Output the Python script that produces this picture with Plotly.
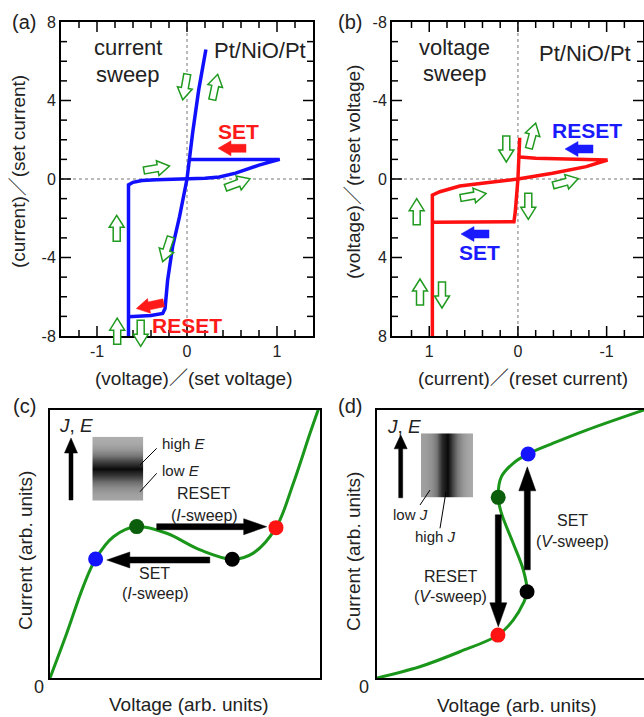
import math
import plotly.graph_objects as go

W, H = 644, 717
FONT = "Liberation Sans, Arial, Noto Sans CJK JP, sans-serif"
TXT = "#222222"

# ---------------- data ----------------
# (a) current sweep, Pt/NiO/Pt : x = voltage/set voltage, y = current/set current
A_LRS_V = [0.21, 0.13, 0.062, 0.0, -0.083, -0.16, -0.215, -0.244, -0.27, -0.40, -0.65]
A_LRS_I = [6.6, 4.54, 2.33, 0.0, -1.92, -3.45, -5.15, -6.6, -6.85, -6.95, -7.02]
A_HRS_V = [-0.65, -0.65, -0.60, -0.50, -0.34, 0.0, 0.20, 0.36, 0.54, 0.80, 0.92, 1.03, 0.03]
A_HRS_I = [-8.6, -0.30, -0.17, -0.08, -0.04, 0.0, 0.04, 0.10, 0.30, 0.71, 0.88, 1.0, 1.0]
A_XTICKS = [-1, 0, 1]
A_XLABELS = ["-1", "0", "1"]
A_YTICKS = [-8, -4, 0, 4, 8]
A_YLABELS = ["-8", "-4", "0", "4", "8"]

# (b) voltage sweep : x = current/reset current, y = voltage/reset voltage
B_LRS_I = [-0.02, 0.0, 0.03, 0.045, 0.96]
B_LRS_V = [-2.1, 0.0, 1.67, 2.18, 2.2]
B_HRS_I = [0.965, 0.965, 0.88, 0.655, 0.355, 0.0, -0.39, -0.77, -1.01, -0.5, -0.2, -0.02]
B_HRS_V = [8.6, 0.82, 0.65, 0.36, 0.19, 0.0, -0.29, -0.63, -0.97, -1.0, -1.06, -1.12]
B_XTICKS = [1, 0, -1]
B_XLABELS = ["1", "0", "-1"]
B_YTICKS = [-8, -4, 0, 4, 8]
B_YLABELS = ["-8", "-4", "0", "4", "8"]

# minor tick positions shared by (a) and (b)
X_MINOR = [-1.2, -0.8, -0.6, -0.4, -0.2, 0.2, 0.4, 0.6, 0.8, 1.2]
Y_MINOR = [-7, -6, -5, -3, -2, -1, 1, 2, 3, 5, 6, 7]

# (c) N-shaped I-V (arb. units)
C_V = [0.0, 0.062, 0.123, 0.169, 0.235, 0.321, 0.432, 0.556, 0.675, 0.753, 0.837, 0.901, 0.963, 1.0]
C_I = [0.0, 0.167, 0.341, 0.444, 0.527, 0.565, 0.540, 0.478, 0.443, 0.466, 0.561, 0.726, 0.913, 1.02]
C_DOT_V = [0.169, 0.321, 0.675, 0.837]
C_DOT_I = [0.444, 0.565, 0.443, 0.561]
C_DOT_COL = ["#1414ff", "#0b5e0b", "#000000", "#ff1414"]

# (d) S-shaped I-V (arb. units)
D_V = [0.0, 0.16, 0.31, 0.453, 0.51, 0.548, 0.562, 0.548, 0.51, 0.466, 0.454, 0.466, 0.51, 0.566, 0.66, 0.785, 1.0]
D_I = [0.0, 0.042, 0.098, 0.16, 0.216, 0.279, 0.322, 0.403, 0.503, 0.615, 0.674, 0.751, 0.801, 0.836, 0.876, 0.925, 1.0]
D_DOT_V = [0.453, 0.562, 0.454, 0.566]
D_DOT_I = [0.16, 0.322, 0.674, 0.836]
D_DOT_COL = ["#ff1414", "#000000", "#0b5e0b", "#1414ff"]

# inset grey-level profiles (0 black .. 255 white)
C_INSET_PROFILE = [175, 168, 150, 118, 60, 10, 55, 110, 142, 160, 168]   # top -> bottom
D_INSET_PROFILE = [160, 155, 145, 118, 40, 8, 70, 122, 150, 165, 172]    # left -> right


def fx(p):
    return p / W


def fy(p):
    return 1 - p / H


A_PX = (61, 313, 22, 336)     # left, right, top, bottom (pixels) of the (a) frame
B_PX = (392, 643, 22, 336)    # same for (b)
A_XR = [-1.4, 1.4]
A_YR = [-8, 8]
B_XR = [1.42, -1.41]
B_YR = [8, -8]

fig = go.Figure()

fig.add_trace(go.Scatter(x=A_LRS_V, y=A_LRS_I, mode="lines", line=dict(color="#1010ff", width=3.5),
                         xaxis="x", yaxis="y", showlegend=False))
fig.add_trace(go.Scatter(x=A_HRS_V, y=A_HRS_I, mode="lines", line=dict(color="#1010ff", width=3.5),
                         xaxis="x", yaxis="y", showlegend=False))
fig.add_trace(go.Scatter(x=B_LRS_I, y=B_LRS_V, mode="lines", line=dict(color="#ff1010", width=3.5),
                         xaxis="x2", yaxis="y2", showlegend=False))
fig.add_trace(go.Scatter(x=B_HRS_I, y=B_HRS_V, mode="lines", line=dict(color="#ff1010", width=3.5),
                         xaxis="x2", yaxis="y2", showlegend=False))
fig.add_trace(go.Scatter(x=C_V, y=C_I, mode="lines", line=dict(color="#1a961a", width=3, shape="spline"),
                         xaxis="x3", yaxis="y3", showlegend=False))
fig.add_trace(go.Scatter(x=C_DOT_V, y=C_DOT_I, mode="markers", marker=dict(color=C_DOT_COL, size=15),
                         xaxis="x3", yaxis="y3", showlegend=False, cliponaxis=False))
fig.add_trace(go.Scatter(x=D_V, y=D_I, mode="lines", line=dict(color="#1a961a", width=3, shape="spline"),
                         xaxis="x4", yaxis="y4", showlegend=False))
fig.add_trace(go.Scatter(x=D_DOT_V, y=D_DOT_I, mode="markers", marker=dict(color=D_DOT_COL, size=15),
                         xaxis="x4", yaxis="y4", showlegend=False, cliponaxis=False))

gray_scale = [[0, "black"], [1, "white"]]
fig.add_trace(go.Heatmap(z=[[v, v] for v in reversed(C_INSET_PROFILE)], colorscale=gray_scale, zmin=0, zmax=255,
                         zsmooth="best", showscale=False, xaxis="x5", yaxis="y5", hoverinfo="skip"))
fig.add_trace(go.Heatmap(z=[D_INSET_PROFILE, D_INSET_PROFILE], colorscale=gray_scale, zmin=0, zmax=255,
                         zsmooth="best", showscale=False, xaxis="x6", yaxis="y6", hoverinfo="skip"))


# inward ticks on all four frame sides, drawn as line segments in the axes' own data units
def tick_trace(box, xr, yr, xvals, yvals, length, xaxis, yaxis):
    left, right, top, bottom = box
    ux = (xr[1] - xr[0]) / (right - left)      # data units per pixel (x)
    uy = (yr[1] - yr[0]) / (bottom - top)      # data units per pixel (y, upward)
    xs, ys = [], []
    for v in xvals:
        xs += [v, v, None, v, v, None]
        ys += [yr[0], yr[0] + length * uy, None, yr[1], yr[1] - length * uy, None]
    for v in yvals:
        xs += [xr[0], xr[0] + length * ux, None, xr[1], xr[1] - length * ux, None]
        ys += [v, v, None, v, v, None]
    return go.Scatter(x=xs, y=ys, mode="lines", line=dict(color="black", width=1.5),
                      xaxis=xaxis, yaxis=yaxis, showlegend=False, hoverinfo="skip", connectgaps=False)


fig.add_trace(tick_trace(A_PX, A_XR, A_YR, A_XTICKS, A_YTICKS[1:-1], 10, "x", "y"))
fig.add_trace(tick_trace(A_PX, A_XR, A_YR, X_MINOR, Y_MINOR, 6, "x", "y"))
fig.add_trace(tick_trace(B_PX, B_XR, B_YR, B_XTICKS, B_YTICKS[1:-1], 10, "x2", "y2"))
fig.add_trace(tick_trace(B_PX, B_XR, B_YR, X_MINOR, Y_MINOR, 6, "x2", "y2"))

A_XD = [fx(A_PX[0]), fx(A_PX[1])]
A_YD = [fy(A_PX[3]), fy(A_PX[2])]
B_XD = [fx(B_PX[0]), fx(B_PX[1])]
C_XD = [fx(50), fx(320)]
C_YD = [fy(678), fy(410)]
D_XD = [fx(377), 1.0]

common = dict(showline=True, linewidth=2, linecolor="black", showgrid=False, zeroline=False, ticks="",
              mirror=True, tickmode="array", tickfont=dict(family=FONT, size=16, color=TXT))
plain = dict(showgrid=False, zeroline=False, showticklabels=False, ticks="")

fig.update_layout(
    template="none",
    width=W, height=H, margin=dict(l=0, r=0, t=0, b=0), autosize=False,
    paper_bgcolor="white", plot_bgcolor="white",
    font=dict(family=FONT, color=TXT),
    xaxis=dict(domain=A_XD, range=A_XR, anchor="y", tickvals=A_XTICKS, ticktext=A_XLABELS, **common),
    yaxis=dict(domain=A_YD, range=A_YR, anchor="x", tickvals=A_YTICKS, ticktext=A_YLABELS, **common),
    xaxis2=dict(domain=B_XD, range=B_XR, anchor="y2", tickvals=B_XTICKS, ticktext=B_XLABELS, **common),
    yaxis2=dict(domain=A_YD, range=B_YR, anchor="x2", tickvals=B_YTICKS, ticktext=B_YLABELS, **common),
    xaxis3=dict(domain=C_XD, range=[0, 1], anchor="y3", showline=True, linewidth=1.5, linecolor="black", mirror=True, **plain),
    yaxis3=dict(domain=C_YD, range=[0, 1], anchor="x3", showline=True, linewidth=1.5, linecolor="black", mirror=True, **plain),
    xaxis4=dict(domain=D_XD, range=[0, 1], anchor="y4", showline=True, linewidth=1.5, linecolor="black", mirror=True, **plain),
    yaxis4=dict(domain=C_YD, range=[0, 1], anchor="x4", showline=True, linewidth=1.5, linecolor="black", mirror=False, **plain),
    xaxis5=dict(domain=[fx(92.3), fx(143.3)], anchor="y5", visible=False, range=[0, 1]),
    yaxis5=dict(domain=[fy(500.7), fy(436.7)], anchor="x5", visible=False, range=[0, len(C_INSET_PROFILE) - 1]),
    xaxis6=dict(domain=[fx(421), fx(473.3)], anchor="y6", visible=False, range=[0, len(D_INSET_PROFILE) - 1]),
    yaxis6=dict(domain=[fy(497.7), fy(433.3)], anchor="x6", visible=False, range=[0, 1]),
)

shapes = []
# dotted zero lines
for xr, yr in [("x", "y"), ("x2", "y2")]:
    shapes.append(dict(type="line", xref=xr, yref=yr + " domain", x0=0, x1=0, y0=0, y1=1,
                       line=dict(color="#777777", width=1, dash="dot"), layer="below"))
    shapes.append(dict(type="line", xref=xr + " domain", yref=yr, x0=0, x1=1, y0=0, y1=0,
                       line=dict(color="#777777", width=1, dash="dot"), layer="below"))


def block_arrow(cx, cy, ang, L, sw, hw, hl, fill, line_col, lw):
    pts = [(-L / 2, -sw / 2), (L / 2 - hl, -sw / 2), (L / 2 - hl, -hw / 2), (L / 2, 0),
           (L / 2 - hl, hw / 2), (L / 2 - hl, sw / 2), (-L / 2, sw / 2)]
    a = math.radians(ang)
    ca, sa = math.cos(a), math.sin(a)
    pp = []
    for x, y in pts:
        X = cx + x * ca - y * sa
        Y = cy + x * sa + y * ca
        pp.append(f"{fx(X):.5f},{fy(Y):.5f}")
    path = "M " + " L ".join(pp) + " Z"
    return dict(type="path", xref="paper", yref="paper", path=path, fillcolor=fill,
                line=dict(color=line_col, width=lw), layer="above")


GREEN = "#1f9a1f"
green_arrows = [
    (185, 87, 100), (215, 87, -78), (156.7, 168.3, -10), (237.7, 183.3, -20),
    (116.7, 228.3, -90), (166.7, 249.3, 108), (117.2, 331.2, -90), (140.7, 333.3, 90),
    (506.3, 149, 90), (532.3, 135.7, -75), (565.7, 182, -15), (473.3, 195.7, -10),
    (528.3, 206.3, 90), (416.7, 211.7, -90), (420, 292, -90), (442, 295, 90),
]
for cx, cy, ang in green_arrows:
    shapes.append(block_arrow(cx, cy, ang, 26, 7, 15, 12, "white", GREEN, 1.5))

RED = "#ff1a1a"
BLUE = "#1a1aff"
shapes.append(block_arrow(232, 148.3, 180, 28, 8, 15, 13, RED, RED, 0.5))
shapes.append(block_arrow(150, 305.7, 168, 28, 8, 15, 13, RED, RED, 0.5))
shapes.append(block_arrow(579, 149, 180, 28, 8, 15, 13, BLUE, BLUE, 0.5))
shapes.append(block_arrow(475, 234, 180, 28, 8, 15, 13, BLUE, BLUE, 0.5))

shapes.append(block_arrow(211.7, 526.7, 0, 110, 6, 16, 23, "black", "black", 0.5))
shapes.append(block_arrow(158.3, 560, 180, 103, 6, 16, 23, "black", "black", 0.5))
shapes.append(block_arrow(498.3, 570.8, 90, 112, 6, 17, 24, "black", "black", 0.5))
shapes.append(block_arrow(527.3, 518.3, -90, 103, 6, 17, 24, "black", "black", 0.5))
shapes.append(block_arrow(71, 469, -90, 62, 4, 13, 15, "black", "black", 0.5))
shapes.append(block_arrow(400.7, 466.3, -90, 63, 4, 13, 14, "black", "black", 0.5))

for x0, y0, x1, y1 in [(140, 465, 156.7, 448.3), (140, 491.7, 156.7, 473.3),
                       (420, 505, 430, 490), (440, 528.3, 446, 491.7)]:
    shapes.append(dict(type="line", xref="paper", yref="paper", x0=fx(x0), y0=fy(y0), x1=fx(x1), y1=fy(y1),
                       line=dict(color="black", width=1)))

fig.update_layout(shapes=shapes)

ann = []


def text(x, y, s, size, color=TXT, bold=False, angle=0, xanchor="center"):
    if bold:
        s = "<b>" + s + "</b>"
    ann.append(dict(x=fx(x), y=fy(y), xref="paper", yref="paper", text=s, showarrow=False,
                    font=dict(family=FONT, size=size, color=color), textangle=angle,
                    xanchor=xanchor, yanchor="middle"))


text(24, 22, "(a)", 20)
text(350, 22, "(b)", 20)
text(25, 406, "(c)", 20)
text(350, 406, "(d)", 20)

text(128, 48, "current", 22)
text(128, 74.5, "sweep", 22)
text(259.7, 50.6, "Pt/NiO/Pt", 22)
text(238.8, 131.7, "SET", 21, RED, True)
text(186.7, 325.8, "RESET", 21, RED, True)
text(19, 172, "(current)／(set current)", 19, angle=-90)
text(193, 378, "(voltage)／(set voltage)", 19)

text(454, 47, "voltage", 22)
text(455, 73.5, "sweep", 22)
text(585, 53, "Pt/NiO/Pt", 22)
text(586.7, 130.8, "RESET", 21, BLUE, True)
text(479.2, 252.5, "SET", 21, BLUE, True)
text(354, 172, "(voltage)／(reset voltage)", 19, angle=-90)
text(523, 378, "(current)／(reset current)", 19)

text(75.5, 425.5, "<i>J</i>, <i>E</i>", 19)
text(160, 444, "high <i>E</i>", 15, xanchor="left")
text(160, 470, "low <i>E</i>", 15, xanchor="left")
text(204, 493.3, "RESET", 16)
text(204, 515, "(<i>I</i>-sweep)", 16)
text(154, 573.3, "SET", 16)
text(155, 593.3, "(<i>I</i>-sweep)", 16)
text(39, 687, "0", 18)
text(188.3, 704, "Voltage (arb. units)", 19)
text(25, 551, "Current (arb. units)", 19, angle=-90)

text(404, 426.7, "<i>J</i>, <i>E</i>", 19)
text(410, 514, "low <i>J</i>", 15)
text(435, 536, "high <i>J</i>", 15)
text(450.7, 576.7, "RESET", 16)
text(450.7, 596.7, "(<i>V</i>-sweep)", 16)
text(572.3, 520.7, "SET", 16)
text(572.3, 541.7, "(<i>V</i>-sweep)", 16)
text(364, 687, "0", 18)
text(516, 705, "Voltage (arb. units)", 19)
text(353, 552, "Current (arb. units)", 19, angle=-90)

fig.update_layout(annotations=ann)

fig.write_html("out.html", config={"displayModeBar": False},
               post_script="document.body.style.margin='0px';")
